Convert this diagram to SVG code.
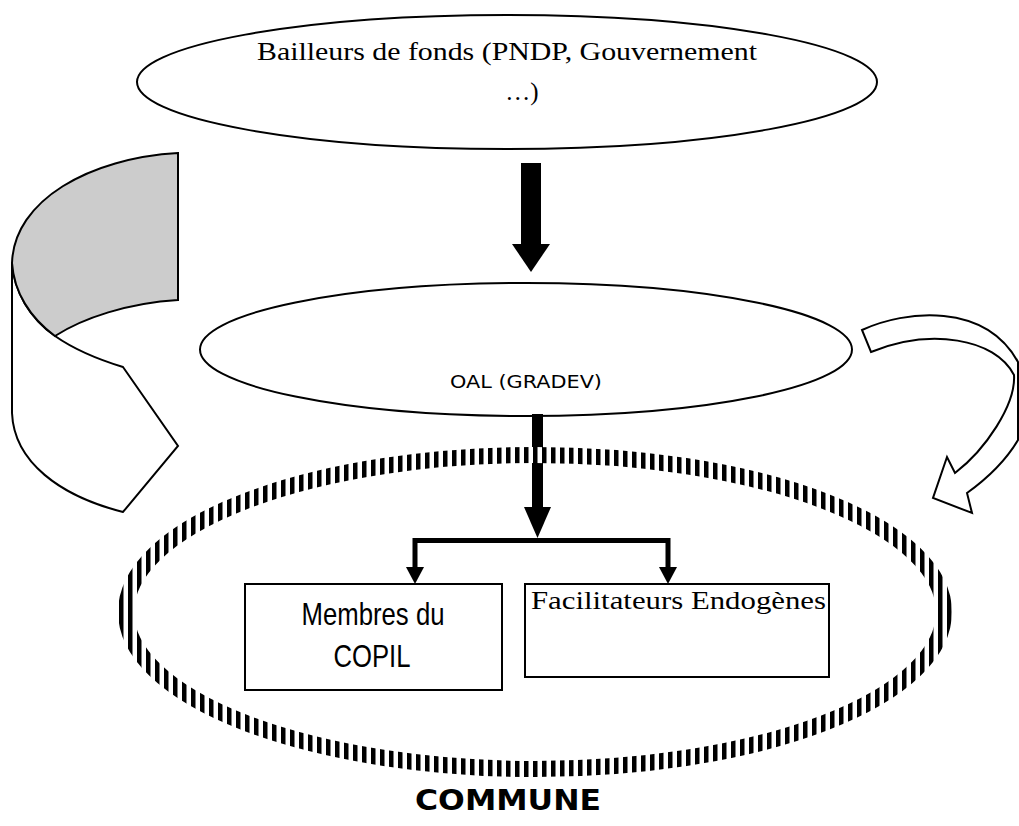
<svg xmlns="http://www.w3.org/2000/svg" width="1019" height="826" viewBox="0 0 1019 826">
<defs>
<pattern id="stripes" patternUnits="userSpaceOnUse" width="9" height="9">
<rect width="9" height="9" fill="#fff"/>
<rect x="2" width="4.5" height="9" fill="#000"/>
</pattern>
<style>
.ln{fill:#fff;stroke:#000;stroke-width:2}
.serif{font-family:"Liberation Serif","DejaVu Serif",serif;fill:#000}
.comic{font-family:"DejaVu Sans","Liberation Sans",sans-serif;fill:#000}
.narrow{font-family:"Liberation Sans Narrow","Liberation Sans",sans-serif;fill:#000}
</style>
</defs>
<rect width="1019" height="826" fill="#fff"/>

<g id="cycle-left">
<path class="ln" d="M12,263 L12,413 C14,462 60,496 123,512 L178,446 L123,367 C100,360 75,350 55,336 C30,318 14,292 12,263 Z"/>
<path d="M178,153 L178,300 C128,303 83,318 55,336 C30,318 14,292 12,263 C14,200 90,158 178,153 Z" fill="#cccccc" stroke="#000" stroke-width="2"/>
</g>

<g id="bailleurs">
<ellipse class="ln" cx="507" cy="82" rx="370" ry="67"/>
<text class="serif" x="257" y="60" font-size="25" textLength="500" lengthAdjust="spacingAndGlyphs">Bailleurs de fonds (PNDP, Gouvernement</text>
<text class="serif" x="522" y="100" font-size="25" text-anchor="middle">…)</text>
</g>

<g id="oal">
<ellipse class="ln" cx="526" cy="349.5" rx="326" ry="66.5"/>
<text class="comic" x="526" y="388" font-size="17" text-anchor="middle" textLength="152" lengthAdjust="spacingAndGlyphs">OAL (GRADEV)</text>
</g>

<g id="feedback-arrow">
<path class="ln" d="M862,330 C905,310 985,302 1018,362 L1018,440 C1005,462 985,480 967,493 L972,513 L933,498 L947,457 L955,473 C985,450 1016,405 1014,375 C995,338 930,328 871,352 Z"/>
</g>

<g id="connectors">
<rect x="521" y="163" width="20" height="82" fill="#000"/>
<polygon points="512,244 550,244 531,272" fill="#000"/>
<rect x="532" y="414" width="11" height="94" fill="#000"/>
</g>

<g id="commune-ring">
<ellipse cx="535" cy="612" rx="409" ry="157" fill="none" stroke="url(#stripes)" stroke-width="16"/>
</g>

<g id="branch">
<polygon points="524,507 551,507 537.5,538" fill="#000"/>
<path d="M415,568 L415,540.5 L668,540.5 L668,568" fill="none" stroke="#000" stroke-width="5"/>
<polygon points="406,567 424,567 415,584" fill="#000"/>
<polygon points="659,567 677,567 668,584" fill="#000"/>
</g>

<g id="membres">
<rect class="ln" x="245" y="584" width="257" height="106"/>
<text class="narrow" x="373" y="625" font-size="32" text-anchor="middle" textLength="143" lengthAdjust="spacingAndGlyphs">Membres du</text>
<text class="narrow" x="372" y="667" font-size="32" text-anchor="middle" textLength="77" lengthAdjust="spacingAndGlyphs">COPIL</text>
</g>

<g id="facilitateurs">
<rect class="ln" x="525" y="584" width="304" height="93"/>
<text class="serif" x="531" y="609" font-size="25" textLength="295" lengthAdjust="spacingAndGlyphs">Facilitateurs Endogènes</text>
</g>

<g id="commune-label">
<text class="comic" x="508" y="810" font-size="29" font-weight="bold" text-anchor="middle" textLength="186" lengthAdjust="spacingAndGlyphs">COMMUNE</text>
</g>
</svg>
